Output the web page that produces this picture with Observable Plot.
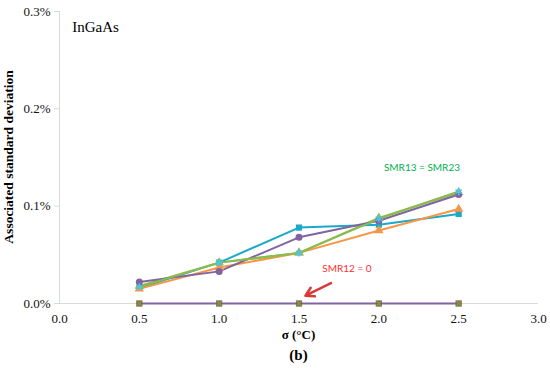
<!DOCTYPE html>
<html><head><meta charset="utf-8">
<script src="https://cdn.jsdelivr.net/npm/d3@7"></script>
<script src="https://cdn.jsdelivr.net/npm/@observablehq/plot@0.6"></script>
<style>
body{margin:0;background:#fff;}
#wrap{position:relative;width:550px;height:368px;}
#cap{position:absolute;left:0;width:597px;top:347px;line-height:18px;text-align:center;font:bold 15px "Liberation Serif",serif;color:#000;}
</style></head>
<body><div id="wrap"><div id="chart"></div><div id="cap">(b)</div></div>
<script>
const sigma = [0.5, 1.0, 1.5, 2.0, 2.5];
const smr13 = [0.018, 0.042, 0.052, 0.088, 0.114];
const smr23 = [0.017, 0.042, 0.052, 0.087, 0.115];
const seriesPurple = [0.022, 0.033, 0.068, 0.085, 0.112];
const seriesCyan = [0.016, 0.042, 0.078, 0.081, 0.092];
const seriesOrange = [0.015, 0.037, 0.052, 0.075, 0.097];
const smr12 = [0, 0, 0, 0, 0];
const xTicks = [0, 0.5, 1.0, 1.5, 2.0, 2.5, 3.0];
const yTicks = [0, 0.1, 0.2, 0.3];

const series = [
  {name: "smr12", vals: smr12, color: "#8064A2", symbol: "square", fill: "#A0524A"},
  {name: "cyan", vals: seriesCyan, color: "#1BA9C9", symbol: "square", fill: "#1BA9C9"},
  {name: "orange", vals: seriesOrange, color: "#F79646", symbol: "triangle", fill: "#F79646"},
  {name: "green", vals: smr13, color: "#8BBB4F", symbol: "triangle", fill: "#8BBB4F"},
  {name: "purple", vals: seriesPurple, color: "#8064A2", symbol: "circle", fill: "#8064A2"},
];
const rows = series.flatMap(s => s.vals.map((v, i) => ({name: s.name, x: sigma[i], y: v})));
const stars = smr23.map((v, i) => ({x: sigma[i], y: v}));
const zeroX = smr12.map((v, i) => ({x: sigma[i], y: v}));

const marks = [
  Plot.ruleY([0], {stroke: "#d9d9d9"}),
  Plot.ruleX([0], {stroke: "#d9d9d9"}),
  Plot.axisX({ticks: xTicks, tickFormat: d => d.toFixed(1), tickSize: 0, tickPadding: 10, fontSize: 13, fill: "#111", label: null}),
  Plot.axisY({ticks: yTicks, tickFormat: d => d.toFixed(1) + "%", tickSize: 5, stroke: "#d9d9d9", tickPadding: 4, fontSize: 13, fill: "#111", label: null}),
];
for (const s of series) {
  const d = rows.filter(r => r.name === s.name);
  marks.push(Plot.line(d, {x: "x", y: "y", stroke: s.color, strokeWidth: 2}));
}
marks.push(Plot.line(stars, {x: "x", y: "y", stroke: "#8BBB4F", strokeWidth: 2}));
for (const s of series) {
  const d = rows.filter(r => r.name === s.name);
  marks.push(Plot.dot(d, {x: "x", y: "y", symbol: s.symbol, fill: s.fill, r: 3.5}));
}
marks.push(Plot.dot(stars, {x: "x", y: "y", symbol: "asterisk", stroke: "#4BC6E6", r: 3.5, strokeWidth: 1.5}));
marks.push(Plot.dot(zeroX, {x: "x", y: "y", symbol: "times", stroke: "#6BA04A", r: 2.5, strokeWidth: 1.5}));
marks.push(Plot.text(["InGaAs"], {x: 0.08, y: 0.284, textAnchor: "start", fontSize: 15, fontFamily: "Liberation Serif, serif", fill: "#000"}));
marks.push(Plot.text(["SMR13 = SMR23"], {x: 2.27, y: 0.139, fontSize: 10, fontFamily: "Lato, sans-serif", fill: "#00B050"}));
marks.push(Plot.text(["SMR12 = 0"], {x: 1.80, y: 0.036, fontSize: 10, fontFamily: "Lato, sans-serif", fill: "#FF3030"}));
marks.push(Plot.arrow([{x1: 1.70, y1: 0.021, x2: 1.54, y2: 0.008}], {x1: "x1", y1: "y1", x2: "x2", y2: "y2", stroke: "#D83A3A", strokeWidth: 2.5, headLength: 8}));

const chart = Plot.plot({
  width: 550, height: 345,
  marginLeft: 59, marginRight: 12, marginTop: 11, marginBottom: 42,
  style: {fontFamily: "Liberation Serif, serif", fontSize: "13px", color: "#222", background: "#fff"},
  x: {domain: [0, 3]},
  y: {domain: [0, 0.3]},
  marks
});
const svg = d3.select(chart);
svg.append("text").attr("x", (59 + 538) / 2).attr("y", 339).attr("text-anchor", "middle")
  .attr("font-weight", "bold").attr("font-size", 13).attr("fill", "#000").text("σ (°C)");
svg.append("text").attr("transform", "translate(13," + (11 + 303) / 2 + ") rotate(-90)").attr("text-anchor", "middle")
  .attr("font-weight", "bold").attr("font-size", 13.5).attr("fill", "#000").text("Associated standard deviation");
document.getElementById("chart").appendChild(chart);
</script></body></html>
